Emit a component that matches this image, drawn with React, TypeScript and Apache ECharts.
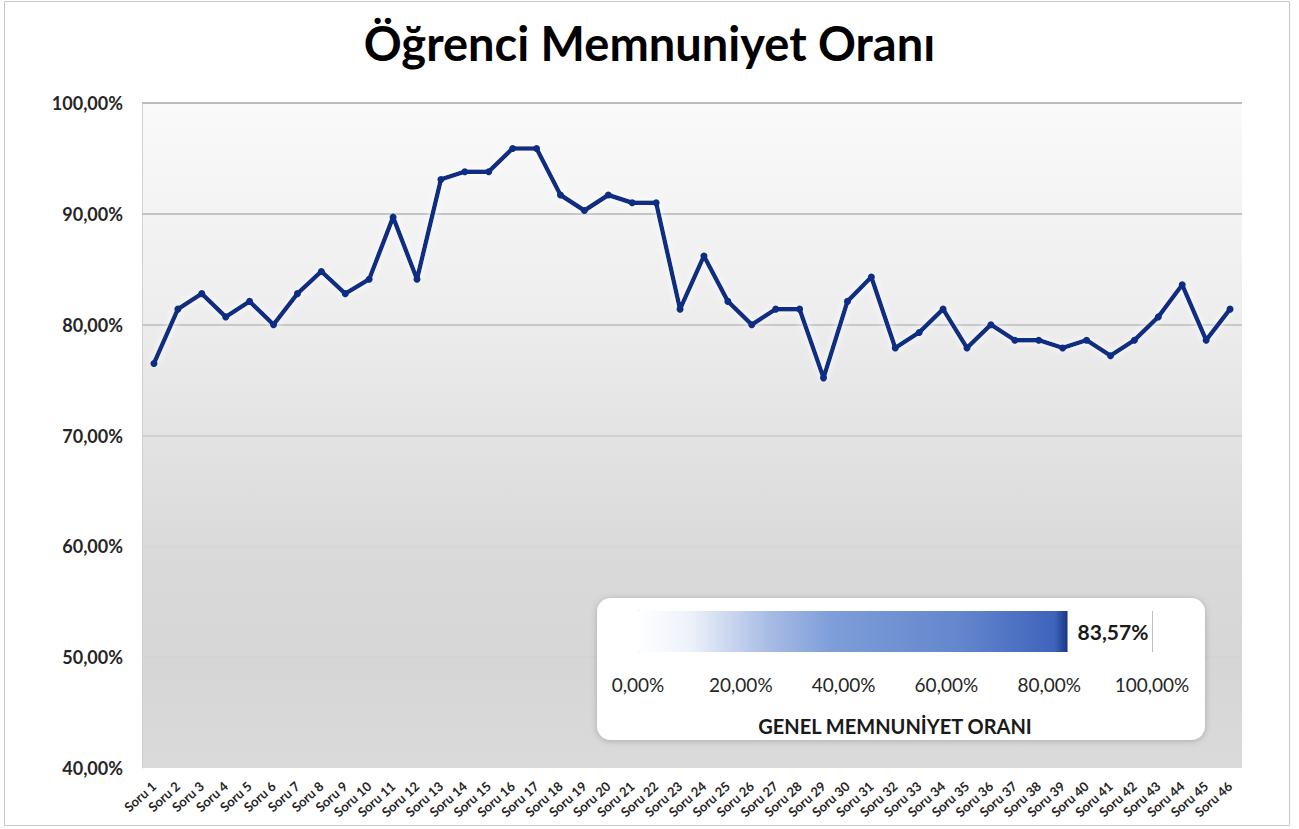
import React, { useEffect, useRef } from "react";
import * as echarts from "echarts";

const categories = [
  "Soru 1", "Soru 2", "Soru 3", "Soru 4", "Soru 5", "Soru 6", "Soru 7", "Soru 8", "Soru 9", "Soru 10",
  "Soru 11", "Soru 12", "Soru 13", "Soru 14", "Soru 15", "Soru 16", "Soru 17", "Soru 18", "Soru 19", "Soru 20",
  "Soru 21", "Soru 22", "Soru 23", "Soru 24", "Soru 25", "Soru 26", "Soru 27", "Soru 28", "Soru 29", "Soru 30",
  "Soru 31", "Soru 32", "Soru 33", "Soru 34", "Soru 35", "Soru 36", "Soru 37", "Soru 38", "Soru 39", "Soru 40",
  "Soru 41", "Soru 42", "Soru 43", "Soru 44", "Soru 45", "Soru 46",
];

const satisfaction = [
  76.5, 81.4, 82.8, 80.7, 82.1, 80.0, 82.8, 84.8, 82.8, 84.1,
  89.7, 84.1, 93.1, 93.8, 93.8, 95.9, 95.9, 91.7, 90.3, 91.7,
  91.0, 91.0, 81.4, 86.2, 82.1, 80.0, 81.4, 81.4, 75.2, 82.1,
  84.3, 77.9, 79.3, 81.4, 77.9, 80.0, 78.6, 78.6, 77.9, 78.6,
  77.2, 78.6, 80.7, 83.6, 78.6, 81.4,
];

const gridTicks = [100, 90, 80, 70, 60, 50];
const gridTickColors = ["#bcbcbc", "#c3c3c3", "#c8c8c8", "#d0d0d0", "#d6d6d6", "#d3d3d3"];

const overallLabel = ["GENEL MEMNUNİYET ORANI"];
const overallValue = [83.57];

const fmt = (v: number) => v.toFixed(2).replace(".", ",") + "%";
const FONT = "Lato, 'Open Sans', sans-serif";

export default function App() {
  const ref = useRef<HTMLDivElement>(null);
  useEffect(() => {
    if (!ref.current) return;
    const chart = echarts.init(ref.current, undefined, { renderer: "svg" });
    chart.setOption({
      animation: false,
      backgroundColor: "#ffffff",
      textStyle: { fontFamily: FONT },
      title: {
        text: "Öğrenci Memnuniyet Oranı",
        left: "center",
        top: 14,
        textStyle: { fontFamily: FONT, fontSize: 47, fontWeight: "bold", color: "#000000" },
      },
      graphic: [
        {
          type: "rect",
          silent: true,
          z: -10,
          shape: { x: 4.5, y: 1.5, width: 1285, height: 824 },
          style: { fill: "none", stroke: "#c9c9c9", lineWidth: 1 },
        },
        {
          type: "rect",
          silent: true,
          z: 5,
          shape: { x: 597, y: 598, width: 608, height: 142, r: 14 },
          style: {
            fill: "#ffffff",
            shadowBlur: 6,
            shadowColor: "rgba(0,0,0,0.22)",
            shadowOffsetX: 0,
            shadowOffsetY: 1,
          },
        },
      ],
      grid: [
        {
          left: 142,
          right: 57,
          top: 103,
          bottom: 61,
          show: true,
          borderWidth: 0,
          backgroundColor: new echarts.graphic.LinearGradient(0, 0, 0, 1, [
            { offset: 0, color: "#fafafa" },
            { offset: 0.3, color: "#eeeeee" },
            { offset: 0.5, color: "#e3e3e3" },
            { offset: 0.67, color: "#dadada" },
            { offset: 0.85, color: "#d6d6d6" },
            { offset: 1, color: "#dadada" },
          ]),
        },
        {
          left: 638,
          right: 147,
          top: 611,
          bottom: 177,
          show: false,
        },
      ],
      xAxis: [
        {
          gridIndex: 0,
          type: "category",
          data: categories,
          boundaryGap: true,
          axisLine: { show: false },
          axisTick: { show: false },
          axisLabel: {
            interval: 0,
            rotate: 42,
            margin: 16,
            fontFamily: FONT,
            fontSize: 13,
            fontWeight: "bold",
            color: "#262626",
          },
        },
        {
          gridIndex: 1,
          type: "value",
          min: 0,
          max: 100,
          interval: 20,
          z: 10,
          splitLine: { show: false },
          axisLine: { show: false },
          axisTick: { show: false },
          axisLabel: {
            formatter: fmt,
            margin: 23,
            fontFamily: FONT,
            fontSize: 19,
            color: "#262626",
          },
          name: overallLabel[0],
          nameLocation: "middle",
          nameGap: 64,
          nameTextStyle: { fontFamily: FONT, fontSize: 20, fontWeight: "bold", color: "#1a1a1a" },
        },
      ],
      yAxis: [
        {
          gridIndex: 0,
          type: "value",
          min: 40,
          max: 100,
          interval: 10,
          axisLine: { show: true, lineStyle: { color: "#d0d0d0", width: 1 } },
          axisTick: { show: false },
          splitLine: { show: false },
          axisLabel: {
            formatter: fmt,
            margin: 19,
            fontFamily: FONT,
            fontSize: 18,
            fontWeight: "bold",
            color: "#262626",
          },
        },
        {
          gridIndex: 1,
          type: "category",
          data: overallLabel,
          z: 10,
          axisLine: { show: true, lineStyle: { color: "#a6a6a6", width: 1 } },
          axisTick: { show: false },
          axisLabel: { show: false },
        },
      ],
      series: [
        {
          type: "line",
          xAxisIndex: 0,
          yAxisIndex: 0,
          data: satisfaction,
          symbol: "circle",
          symbolSize: 7,
          z: 3,
          lineStyle: {
            color: "#0c2d83",
            width: 4.5,
            shadowColor: "rgba(255,255,255,1)",
            shadowBlur: 7,
          },
          itemStyle: { color: "#0c2d83" },
          markLine: {
            silent: true,
            z: 1,
            symbol: "none",
            label: { show: false },
            emphasis: { disabled: true },
            data: gridTicks.map((v, i) => ({
              yAxis: v,
              lineStyle: { color: gridTickColors[i], width: 2, type: "solid" },
            })),
          },
        },
        {
          type: "bar",
          xAxisIndex: 1,
          yAxisIndex: 1,
          data: overallValue,
          barWidth: "100%",
          z: 10,
          itemStyle: {
            color: new echarts.graphic.LinearGradient(0, 0, 1, 0, [
              { offset: 0, color: "#ffffff" },
              { offset: 0.12, color: "#eef2fa" },
              { offset: 0.3, color: "#a9bde5" },
              { offset: 0.45, color: "#7e9ed9" },
              { offset: 0.75, color: "#6386cd" },
              { offset: 0.97, color: "#3e64bb" },
              { offset: 1, color: "#1a3685" },
            ]),
            borderWidth: 0,
          },
          label: {
            show: true,
            position: "right",
            distance: 10,
            formatter: (p: any) => fmt(p.value),
            fontFamily: FONT,
            fontSize: 21,
            fontWeight: "bold",
            color: "#1a1a1a",
          },
          markLine: {
            silent: true,
            symbol: "none",
            label: { show: false },
            lineStyle: { color: "#bfbfbf", width: 1, type: "solid" },
            data: [{ xAxis: 100 }],
          },
        },
      ],
    });
    return () => chart.dispose();
  }, []);
  return (
    <div
      ref={ref}
      style={{ position: "absolute", left: 0, top: 0, width: 1299, height: 829 }}
    />
  );
}
